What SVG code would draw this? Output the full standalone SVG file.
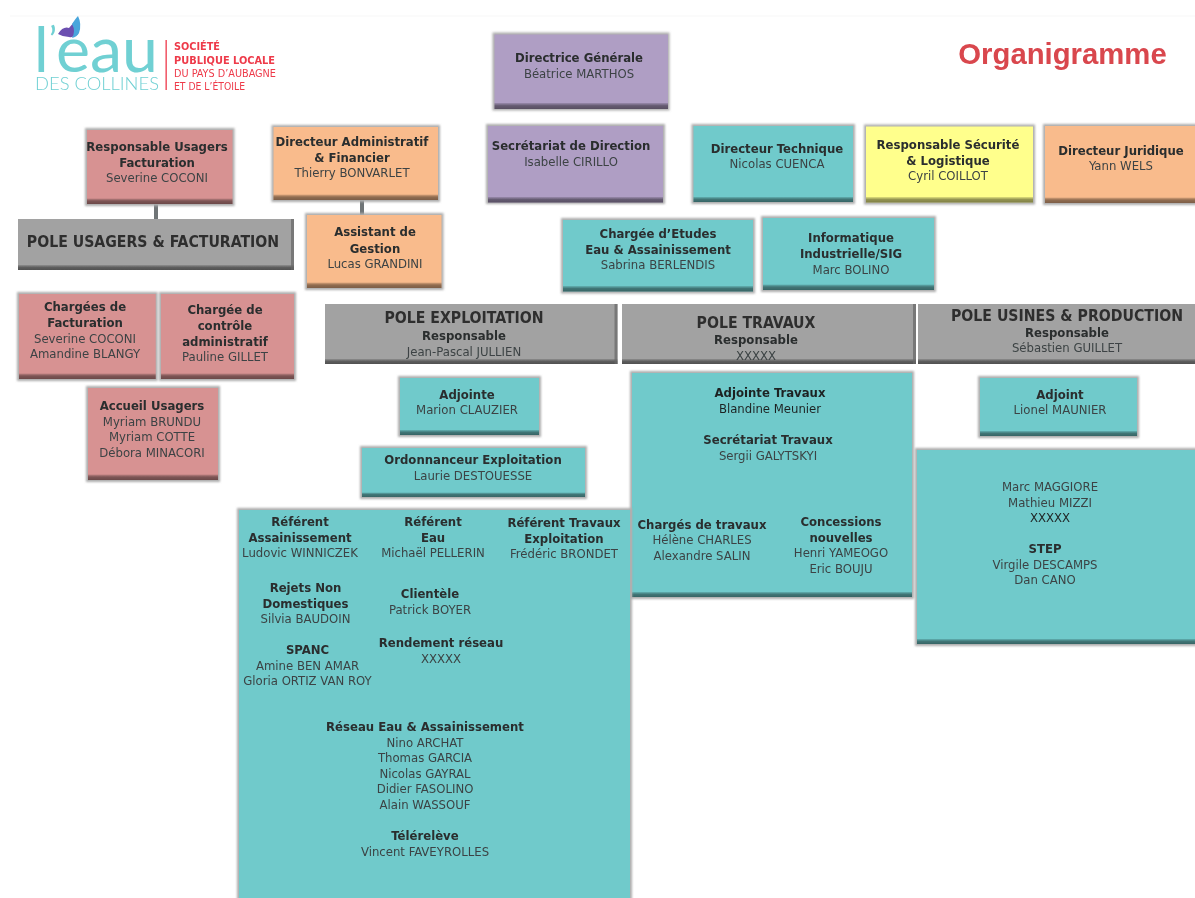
<svg xmlns="http://www.w3.org/2000/svg" width="1195" height="898" viewBox="0 0 1195 898">
<style>
text{font-family:"DejaVu Sans Condensed","DejaVu Sans",sans-serif;font-size:13px;text-anchor:middle;fill:#3c4344}
.b{font-weight:700;fill:#2a2d2e}
.p{font-weight:700;font-size:15.700px;fill:#2f2f2f}
.d{fill:#1f2424}
.teal{fill:#6fcacb}.purple{fill:#af9ec4}.red{fill:#d79292}.orange{fill:#f9bb8c}.yellow{fill:#ffff8c}.grey{fill:#a2a2a2}
.band{fill:url(#bv)}
.sh{fill:#adadad;filter:url(#sh)}
.re{fill:#ee3a4a;text-anchor:start;font-family:"DejaVu Sans Condensed","Liberation Sans",sans-serif;font-size:11px}
.lg{fill:#6fd0d3;font-family:Lato,"Open Sans",sans-serif;font-weight:400;text-anchor:start}
</style>
<defs>
<linearGradient id="bv" x1="0" y1="0" x2="0" y2="1"><stop offset="0" stop-color="#000" stop-opacity=".12"/><stop offset=".45" stop-color="#000" stop-opacity=".42"/><stop offset="1" stop-color="#000" stop-opacity=".5"/></linearGradient>
<filter id="sh" x="-10%" y="-10%" width="120%" height="120%"><feGaussianBlur stdDeviation="1.200"/></filter>
<filter id="soft" x="0" y="0" width="100%" height="100%"><feGaussianBlur stdDeviation="0.350"/></filter>
</defs>
<g filter="url(#soft)">
<rect x="10" y="15.500" width="1185" height="1" fill="#f8f8f8"/>

<g id="connectors"><rect x="154" y="204" width="4" height="16" fill="#6f7577"/><rect x="360" y="200" width="4" height="16" fill="#6f7577"/></g>

<g id="logo">
<text class="lg" x="34" y="72" style="font-size:62px">l</text>
<text class="lg" x="49" y="53" style="font-size:36px">’</text>
<text class="lg" x="56" y="72" style="font-size:62px" textLength="102" lengthAdjust="spacingAndGlyphs">eau</text>
<text class="lg" x="35" y="90" style="font-size:17px;font-weight:300" textLength="124" lengthAdjust="spacingAndGlyphs">DES COLLINES</text>
<path d="M58 34 Q63 26 69 28 Q73 23 78 18 Q81 25 78 34 Q74 38 69 37 Q63 37 58 34Z" fill="#6c4fb0"/>
<path d="M72 24 Q76 18 78 16 Q82 24 79 33 Q77 37 72 38 Q76 31 72 24Z" fill="#4aa6dc"/>
<rect x="165.500" y="40" width="1.300" height="50" fill="#ee3a4a"/>
<text class="re" x="174" y="49.500" font-weight="700" textLength="46" lengthAdjust="spacingAndGlyphs">SOCIÉTÉ</text>
<text class="re" x="174" y="63.500" font-weight="700" textLength="101" lengthAdjust="spacingAndGlyphs">PUBLIQUE LOCALE</text>
<text class="re" x="174" y="77" textLength="102" lengthAdjust="spacingAndGlyphs">DU PAYS D’AUBAGNE</text>
<text class="re" x="174" y="90" textLength="71" lengthAdjust="spacingAndGlyphs">ET DE L’ÉTOILE</text>
</g>
<text id="title" x="1062.500" y="64" style="font-family:'Liberation Sans',Arial,sans-serif;font-weight:700;font-size:29.300px;fill:#d9464d">Organigramme</text>

<g id="dg"><rect class="sh" x="492.500" y="32.500" width="177" height="78"/><rect class="purple" x="494.500" y="34.500" width="173.500" height="74.500"/><rect class="band" x="494.500" y="103" width="173.500" height="6"/><text class="b" x="579" y="62">Directrice Générale</text><text x="579" y="77.500">Béatrice MARTHOS</text></g>
<g id="sec"><rect class="sh" x="486" y="124" width="179" height="80"/><rect class="purple" x="488" y="126" width="175" height="76.500"/><rect class="band" x="488" y="197" width="175" height="5.500"/><text class="b" x="571" y="150">Secrétariat de Direction</text><text x="571" y="165.500">Isabelle CIRILLO</text></g>
<g id="dt"><rect class="sh" x="691.500" y="124" width="163.500" height="80"/><rect class="teal" x="693.500" y="126" width="159.500" height="76"/><rect class="band" x="693.500" y="197" width="159.500" height="5"/><text class="b" x="777" y="152.500">Directeur Technique</text><text x="777" y="168">Nicolas CUENCA</text></g>
<g id="rs"><rect class="sh" x="864" y="124.500" width="171" height="80"/><rect class="yellow" x="866" y="126.500" width="167" height="76"/><rect class="band" x="866" y="197" width="167" height="5.500"/><text class="b" x="948" y="149">Responsable Sécurité</text><text class="b" x="948" y="164.500">&amp; Logistique</text><text x="948" y="180">Cyril COILLOT</text></g>
<g id="dj"><rect class="sh" x="1043" y="124" width="154" height="81"/><rect class="orange" x="1045" y="126" width="150" height="77"/><rect class="band" x="1045" y="197.500" width="150" height="5.500"/><text class="b" x="1121" y="155">Directeur Juridique</text><text x="1121" y="170">Yann WELS</text></g>
<g id="ru"><rect class="sh" x="85" y="128" width="149.500" height="78"/><rect class="red" x="87" y="130" width="145.500" height="74"/><rect class="band" x="87" y="198.500" width="145.500" height="5.500"/><text class="b" x="157" y="151">Responsable Usagers</text><text class="b" x="157" y="167">Facturation</text><text x="157" y="182">Severine COCONI</text></g>
<g id="da"><rect class="sh" x="271.500" y="125" width="168.500" height="77"/><rect class="orange" x="273.500" y="127" width="164.500" height="73"/><rect class="band" x="273.500" y="194.500" width="164.500" height="5.500"/><text class="b" x="352" y="146">Directeur Administratif</text><text class="b" x="352" y="161.500">&amp; Financier</text><text x="352" y="177">Thierry BONVARLET</text></g>
<g id="ag"><rect class="sh" x="305" y="213" width="138.500" height="77"/><rect class="orange" x="307" y="215" width="134.500" height="73"/><rect class="band" x="307" y="282.500" width="134.500" height="5.500"/><text class="b" x="375" y="236">Assistant de</text><text class="b" x="375" y="252.500">Gestion</text><text x="375" y="268">Lucas GRANDINI</text></g>
<g id="ce"><rect class="sh" x="561" y="218" width="194" height="75.500"/><rect class="teal" x="563" y="220" width="190" height="71.500"/><rect class="band" x="563" y="286" width="190" height="5.500"/><text class="b" x="658" y="238">Chargée d’Etudes</text><text class="b" x="658" y="253.500">Eau &amp; Assainissement</text><text x="658" y="269">Sabrina BERLENDIS</text></g>
<g id="ii"><rect class="sh" x="761" y="216" width="175" height="76"/><rect class="teal" x="763" y="218" width="171" height="72"/><rect class="band" x="763" y="284.500" width="171" height="5.500"/><text class="b" x="851" y="241.500">Informatique</text><text class="b" x="851" y="257.500">Industrielle/SIG</text><text x="851" y="273.500">Marc BOLINO</text></g>

<g id="pu"><rect class="grey" x="18" y="219" width="276" height="51"/><rect class="band" x="18" y="265" width="276" height="5"/><rect x="291" y="219" width="3" height="51" fill="#666" opacity=".7"/><text class="p" x="153" y="247">POLE USAGERS &amp; FACTURATION</text></g>
<g id="cf"><rect class="sh" x="17" y="292" width="140.700" height="89"/><rect class="red" x="19" y="294" width="136.700" height="85"/><rect class="band" x="19" y="373.500" width="136.700" height="5.500"/><text class="b" x="85" y="310.500">Chargées de</text><text class="b" x="85" y="327">Facturation</text><text x="85" y="343">Severine COCONI</text><text x="85" y="358">Amandine BLANGY</text></g>
<g id="cc"><rect class="sh" x="159" y="292" width="137" height="89"/><rect class="red" x="161" y="294" width="133" height="85"/><rect class="band" x="161" y="373.500" width="133" height="5.500"/><text class="b" x="225" y="314">Chargée de</text><text class="b" x="225" y="330">contrôle</text><text class="b" x="225" y="345.500">administratif</text><text x="225" y="361">Pauline GILLET</text></g>
<g id="au"><rect class="sh" x="86" y="386" width="134" height="96"/><rect class="red" x="88" y="388" width="130" height="92"/><rect class="band" x="88" y="474.500" width="130" height="5.500"/><text class="b" x="152" y="409.500">Accueil Usagers</text><text x="152" y="425.500">Myriam BRUNDU</text><text x="152" y="441">Myriam COTTE</text><text x="152" y="456.500">Débora MINACORI</text></g>

<g id="pe"><rect class="grey" x="325" y="304" width="292.500" height="60"/><rect class="band" x="325" y="359" width="292.500" height="5"/><rect x="614.500" y="304" width="3" height="60" fill="#666" opacity=".7"/><text class="p" x="464" y="323">POLE EXPLOITATION</text><text class="b" x="464" y="340">Responsable</text><text x="464" y="355.500">Jean-Pascal JULLIEN</text></g>
<g id="pt"><rect class="grey" x="622" y="304" width="294" height="60"/><rect class="band" x="622" y="359" width="294" height="5"/><rect x="913" y="304" width="3" height="60" fill="#666" opacity=".7"/><text class="p" x="756" y="327.500">POLE TRAVAUX</text><text class="b" x="756" y="344">Responsable</text><text x="756" y="359.500">XXXXX</text></g>
<g id="pp"><rect class="grey" x="918" y="304" width="277" height="60"/><rect class="band" x="918" y="359" width="277" height="5"/><text class="p" x="1067" y="320.500">POLE USINES &amp; PRODUCTION</text><text class="b" x="1067" y="336.500">Responsable</text><text x="1067" y="352">Sébastien GUILLET</text></g>

<g id="ae"><rect class="sh" x="398" y="376" width="143" height="61"/><rect class="teal" x="400" y="378" width="139" height="57"/><rect class="band" x="400" y="430" width="139" height="5"/><text class="b" x="467" y="398.500">Adjointe</text><text x="467" y="414">Marion CLAUZIER</text></g>
<g id="oe"><rect class="sh" x="360" y="446" width="227" height="53"/><rect class="teal" x="362" y="448" width="223" height="49"/><rect class="band" x="362" y="492.500" width="223" height="4.500"/><text class="b" x="473" y="464">Ordonnanceur Exploitation</text><text x="473" y="479.500">Laurie DESTOUESSE</text></g>
<g id="au2"><rect class="sh" x="978" y="376" width="161" height="62"/><rect class="teal" x="980" y="378" width="157" height="58"/><rect class="band" x="980" y="431" width="157" height="5"/><text class="b" x="1060" y="398.500">Adjoint</text><text x="1060" y="414">Lionel MAUNIER</text></g>

<g id="tr"><rect class="sh" x="630" y="371" width="284" height="228"/><rect class="teal" x="632" y="373" width="280" height="224"/><rect class="band" x="632" y="592" width="280" height="5"/>
<text class="b d" x="770" y="397">Adjointe Travaux</text><text class="d" x="770" y="412.500">Blandine Meunier</text>
<text class="b" x="768" y="443.500">Secrétariat Travaux</text><text x="768" y="459.500">Sergii GALYTSKYI</text>
<text class="b" x="702" y="528.500">Chargés de travaux</text><text x="702" y="544">Hélène CHARLES</text><text x="702" y="559.500">Alexandre SALIN</text>
<text class="b" x="841" y="526">Concessions</text><text class="b" x="841" y="541.500">nouvelles</text><text x="841" y="557">Henri YAMEOGO</text><text x="841" y="572.500">Eric BOUJU</text></g>

<g id="us"><rect class="sh" x="915" y="448" width="282" height="198"/><rect class="teal" x="917" y="450" width="278" height="194"/><rect class="band" x="917" y="639" width="278" height="5"/>
<text x="1050" y="491">Marc MAGGIORE</text><text x="1050" y="506.500">Mathieu MIZZI</text><text class="d" x="1050" y="522">XXXXX</text>
<text class="b" x="1045" y="553">STEP</text><text x="1045" y="568.500">Virgile DESCAMPS</text><text x="1045" y="584">Dan CANO</text></g>

<g id="ex"><rect class="sh" x="237" y="508" width="395" height="392"/><rect class="teal" x="239" y="510" width="391" height="390"/>
<text class="b" x="300" y="526">Référent</text><text class="b" x="300" y="541.500">Assainissement</text><text x="300" y="557">Ludovic WINNICZEK</text>
<text class="b" x="433" y="526">Référent</text><text class="b" x="433" y="541.500">Eau</text><text x="433" y="557">Michaël PELLERIN</text>
<text class="b" x="564" y="527">Référent Travaux</text><text class="b" x="564" y="542.500">Exploitation</text><text x="564" y="558">Frédéric BRONDET</text>
<text class="b" x="305.500" y="592">Rejets Non</text><text class="b" x="305.500" y="607.500">Domestiques</text><text x="305.500" y="623">Silvia BAUDOIN</text>
<text class="b" x="430" y="598">Clientèle</text><text x="430" y="613.500">Patrick BOYER</text>
<text class="b" x="441" y="647">Rendement réseau</text><text x="441" y="662.500">XXXXX</text>
<text class="b" x="307.500" y="654">SPANC</text><text x="307.500" y="669.500">Amine BEN AMAR</text><text x="307.500" y="685">Gloria ORTIZ VAN ROY</text>
<text class="b" x="425" y="731">Réseau Eau &amp; Assainissement</text><text x="425" y="746.500">Nino ARCHAT</text><text x="425" y="762">Thomas GARCIA</text><text x="425" y="777.500">Nicolas GAYRAL</text><text x="425" y="793">Didier FASOLINO</text><text x="425" y="808.500">Alain WASSOUF</text>
<text class="b" x="425" y="840">Télérelève</text><text x="425" y="855.500">Vincent FAVEYROLLES</text></g>
</g>
</svg>
